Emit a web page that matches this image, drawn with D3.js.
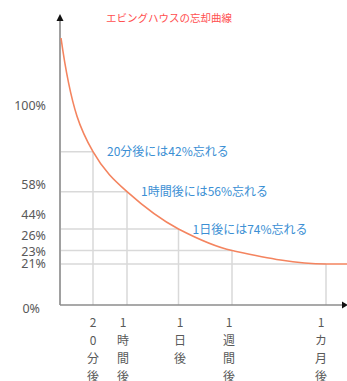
<!DOCTYPE html>
<html>
<head>
<meta charset="utf-8">
<script src="https://cdn.jsdelivr.net/npm/d3@7"></script>
<style>
  html, body { margin: 0; padding: 0; background: #fff; }
  svg { display: block; }
  text { font-family: "Noto Sans CJK JP", "Noto Sans", sans-serif; }
</style>
</head>
<body>
<svg id="chart" width="347" height="381"></svg>
<script>
// ---- data ----
const title = "エビングハウスの忘却曲線";
const timeLabels = ["20分後", "1時間後", "1日後", "1週間後", "1カ月後"];
const timeIndex = [1, 2, 3, 4, 5];          // position of each time point along the axis
const curveIndex = [0, 1, 2, 3, 4, 5, 6];   // 0 = start, 6 = end of axis
const retention = [100, 58, 44, 26, 23, 21, 21];
const yTickValues = [100, 58, 44, 26, 23, 21, 0];
const yTickLabels = ["100%", "58%", "44%", "26%", "23%", "21%", "0%"];
const notes = ["20分後には42%忘れる", "1時間後には56%忘れる", "1日後には74%忘れる"];
const noteIndex = [1, 2, 3];

// ---- scales (the original chart is not to scale, so piecewise scales) ----
const x = d3.scaleLinear().domain([0, 1, 2, 3, 4, 5, 6]).range([61, 93, 127, 178.5, 232, 326, 347]);
const y = d3.scaleLinear().domain([0, 21, 23, 26, 44, 58, 100]).range([305, 264, 250.5, 229, 191.7, 151.7, 38]);
const yLabel = d3.scaleLinear().domain([0, 21, 23, 26, 44, 58, 100]).range([308, 263.5, 251.7, 235.7, 214, 184.3, 105]);
const xLabelShift = [0, -4, 1.5, -3, -5];

// smooth, shape-preserving curve (harmonic-mean tangents, steep start)
function HarmonicCurve(context) { this._context = context; }
HarmonicCurve.prototype = {
  areaStart() { this._line = 0; },
  areaEnd() { this._line = NaN; },
  lineStart() { this._x = []; this._y = []; },
  point(px, py) { this._x.push(+px); this._y.push(+py); },
  lineEnd() {
    const X = this._x, Y = this._y, n = X.length, c = this._context;
    if (!n) return;
    c.moveTo(X[0], Y[0]);
    if (n === 1) return;
    const h = [], s = [];
    for (let i = 0; i < n - 1; i++) { h.push(X[i + 1] - X[i]); s.push((Y[i + 1] - Y[i]) / h[i]); }
    const m = new Array(n);
    m[0] = 2 * s[0];
    m[n - 1] = s[n - 2];
    for (let i = 1; i < n - 1; i++) {
      m[i] = (s[i - 1] * s[i] <= 0) ? 0 : 2 * s[i - 1] * s[i] / (s[i - 1] + s[i]);
    }
    for (let i = 0; i < n - 1; i++) {
      const d = h[i] / 3;
      c.bezierCurveTo(X[i] + d, Y[i] + m[i] * d, X[i + 1] - d, Y[i + 1] - m[i + 1] * d, X[i + 1], Y[i + 1]);
    }
  }
};
const curveHarmonic = ctx => new HarmonicCurve(ctx);

const svg = d3.select("#chart");
const axisX = 60, axisY = 305;

// gridlines
const g = svg.append("g");
timeIndex.forEach((ti) => {
  const r = retention[ti];
  g.append("line").attr("x1", axisX).attr("x2", x(ti)).attr("y1", y(r)).attr("y2", y(r))
    .attr("stroke", "#d9d9d9").attr("stroke-width", 1.5);
  g.append("line").attr("x1", x(ti)).attr("x2", x(ti)).attr("y1", y(r)).attr("y2", axisY)
    .attr("stroke", "#d9d9d9").attr("stroke-width", 1.5);
});

// axes
svg.append("line").attr("x1", axisX).attr("x2", axisX).attr("y1", 19).attr("y2", axisY)
  .attr("stroke", "#a0a0a0").attr("stroke-width", 2);
svg.append("line").attr("x1", axisX).attr("x2", 343).attr("y1", axisY).attr("y2", axisY)
  .attr("stroke", "#8c8c8c").attr("stroke-width", 1.5);
svg.append("path").attr("d", `M${axisX},14 L${axisX - 3.5},21 L${axisX + 3.5},21 Z`).attr("fill", "#111");
svg.append("path").attr("d", `M348,${axisY} L342,${axisY - 3.5} L342,${axisY + 3.5} Z`).attr("fill", "#111");

// curve
const line = d3.line().x((d, i) => x(curveIndex[i])).y(d => y(d)).curve(curveHarmonic);
svg.append("path").datum(retention).attr("d", line)
  .attr("fill", "none").attr("stroke", "#f4845f").attr("stroke-width", 1.6);

// y labels
const ya = d3.axisLeft(yLabel).tickValues(yTickValues)
  .tickFormat((d, i) => yTickLabels[i]).tickSize(0).tickPadding(14);
const yg = svg.append("g").attr("transform", `translate(${axisX},0)`).call(ya);
yg.select(".domain").remove();
yg.selectAll("text").attr("fill", "#595959").style("font-size", "12.5px")
  .style("font-family", "'Noto Sans', 'DejaVu Sans', sans-serif")
  .attr("dx", d => d === 0 ? -6 : 0);

// x labels (vertical stacked characters)
timeLabels.forEach((lab, i) => {
  const t = svg.append("text").attr("text-anchor", "middle").attr("fill", "#595959")
    .style("font-size", "12px");
  Array.from(lab).forEach((ch, k) => {
    t.append("tspan").attr("x", x(timeIndex[i]) + xLabelShift[i]).attr("y", 327 + k * 18).text(ch);
  });
});

// annotations
notes.forEach((n, i) => {
  const ti = noteIndex[i];
  svg.append("text").attr("x", x(ti) + 14).attr("y", y(retention[ti]) + 4.5)
    .attr("fill", "#3b8fd4").style("font-size", "12px").text(n);
});

// title
svg.append("text").attr("x", 169).attr("y", 21.5).attr("text-anchor", "middle")
  .attr("fill", "#ff4f4f").style("font-size", "10.5px").text(title);
</script>
</body>
</html>
